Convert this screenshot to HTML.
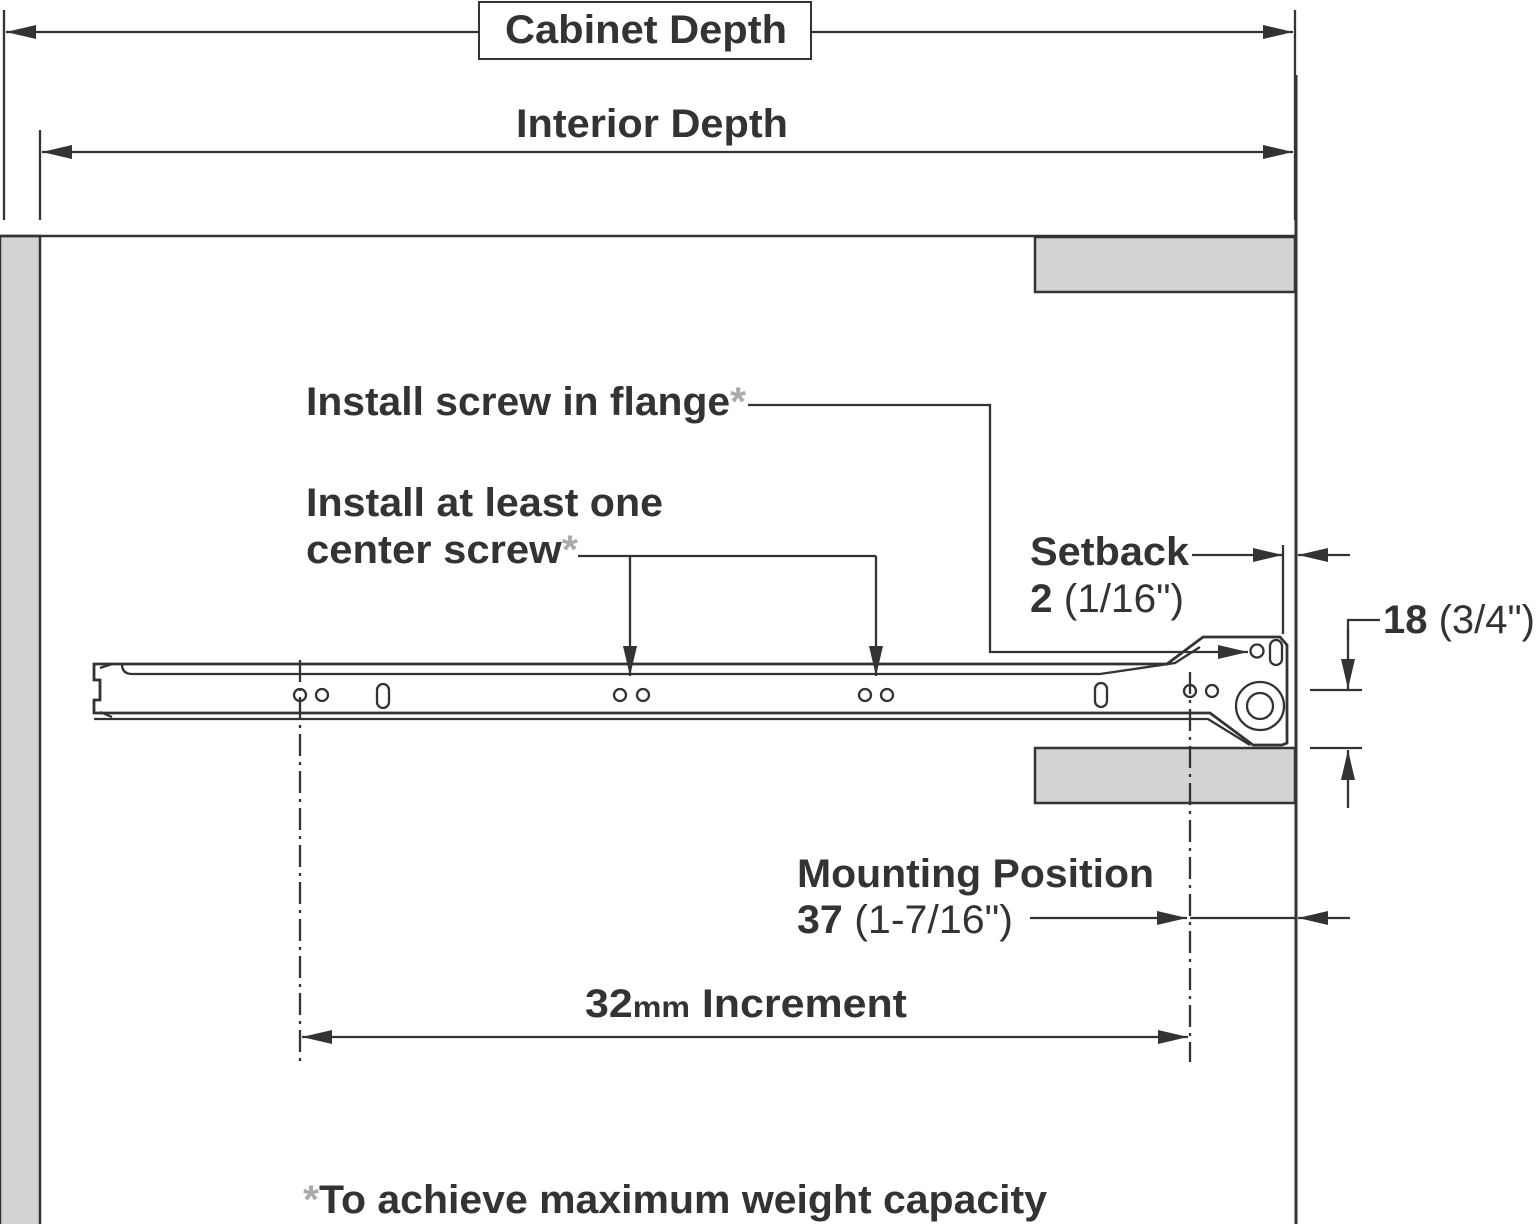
<!DOCTYPE html>
<html><head><style>
html,body{margin:0;padding:0;background:#fff;}
svg{display:block;}
text{font-family:"Liberation Sans",Arial,sans-serif;font-weight:bold;fill:#333;font-size:40px;}
.n{font-weight:normal;}
</style></head><body>
<svg width="1536" height="1224" viewBox="0 0 1536 1224" xmlns="http://www.w3.org/2000/svg">
<defs>
<marker id="a" viewBox="0 0 30 14" refX="30" refY="7" markerWidth="30" markerHeight="14" markerUnits="userSpaceOnUse" orient="auto"><path d="M0,0 L30,7 L0,14 Z" fill="#333"/></marker>
</defs>
<g stroke="#333" fill="none" stroke-width="2.3">
<rect x="0" y="236" width="40" height="990" fill="#d3d3d3" stroke-width="2.5"/>
<line x1="0" y1="236" x2="1296" y2="236" stroke-width="2.5"/>
<line x1="1296" y1="75" x2="1296" y2="1224" stroke-width="3"/>
<rect x="1035" y="237" width="260" height="55" fill="#d3d3d3" stroke-width="2.5"/>
<rect x="1035" y="748" width="260" height="55" fill="#d3d3d3" stroke-width="2.5"/>
<line x1="4" y1="10" x2="4" y2="220"/>
<line x1="1295" y1="10" x2="1295" y2="220"/>
<line x1="40" y1="130" x2="40" y2="220"/>
<line x1="480" y1="32" x2="6" y2="32" marker-end="url(#a)"/>
<line x1="810" y1="32" x2="1293" y2="32" marker-end="url(#a)"/>
<rect x="479" y="2" width="332" height="57" stroke-width="2"/>
<line x1="660" y1="152" x2="42" y2="152" marker-end="url(#a)"/>
<line x1="660" y1="152" x2="1293" y2="152" marker-end="url(#a)"/>
<path d="M94,664 L1167,664 L1203,637 L1280,637 L1287,645 L1287,743 L1282,745 L1253,745 L1210,713 L94,713 L94,700 L100,700 L100,680 L94,680 Z" stroke-width="2.8"/>
<path d="M122,664 Q122,674 132,674 L1100,674 L1175,663 L1200,647" stroke-width="2.3"/>
<path d="M94,719 L1208,719 L1250,745" stroke-width="2.3"/>
<path d="M100,668 L112,664 M100,712 L112,717"/>
<circle cx="300" cy="695" r="6"/><circle cx="322" cy="695" r="6"/>
<circle cx="620" cy="695" r="6"/><circle cx="643" cy="695" r="6"/>
<circle cx="865" cy="695" r="6"/><circle cx="887" cy="695" r="6"/>
<circle cx="1190" cy="691" r="6"/><circle cx="1212" cy="691" r="6"/>
<rect x="377" y="684" width="12" height="24" rx="6"/>
<rect x="1095" y="683" width="12" height="24" rx="6"/>
<circle cx="1257" cy="651" r="6.5"/>
<rect x="1270" y="640" width="12" height="25" rx="6"/>
<circle cx="1260" cy="706" r="24"/><circle cx="1260" cy="706" r="13"/>
<polyline points="748,405 990,405 990,652 1120,652"/>
<line x1="1120" y1="652" x2="1248" y2="652" marker-end="url(#a)"/>
<line x1="578" y1="556" x2="876" y2="556"/>
<line x1="630" y1="556" x2="630" y2="676" marker-end="url(#a)"/>
<line x1="876" y1="556" x2="876" y2="676" marker-end="url(#a)"/>
<line x1="1192" y1="555" x2="1283" y2="555" marker-end="url(#a)"/>
<line x1="1283" y1="545" x2="1283" y2="634"/>
<line x1="1350" y1="555" x2="1298" y2="555" marker-end="url(#a)"/>
<polyline points="1380,620 1348,620 1348,640"/>
<line x1="1348" y1="630" x2="1348" y2="689" marker-end="url(#a)"/>
<line x1="1310" y1="690" x2="1362" y2="690"/>
<line x1="1310" y1="748" x2="1362" y2="748"/>
<line x1="1348" y1="808" x2="1348" y2="750" marker-end="url(#a)"/>
<line x1="1030" y1="918" x2="1187" y2="918" marker-end="url(#a)"/>
<line x1="1350" y1="918" x2="1298" y2="918" marker-end="url(#a)"/>
<line x1="1190" y1="918" x2="1296" y2="918"/>
<line x1="300" y1="660" x2="300" y2="1062" stroke-dasharray="22,6,3,6"/>
<line x1="1190" y1="672" x2="1190" y2="1062" stroke-dasharray="22,6,3,6"/>
<line x1="745" y1="1037" x2="302" y2="1037" marker-end="url(#a)"/>
<line x1="745" y1="1037" x2="1188" y2="1037" marker-end="url(#a)"/>
</g>
<text x="505" y="43" textLength="282" lengthAdjust="spacingAndGlyphs">Cabinet Depth</text>
<text x="516" y="137" textLength="272" lengthAdjust="spacingAndGlyphs">Interior Depth</text>
<text x="306" y="415" textLength="440" lengthAdjust="spacingAndGlyphs">Install screw in flange<tspan fill="#aaa">*</tspan></text>
<text x="306" y="516" textLength="357" lengthAdjust="spacingAndGlyphs">Install at least one</text>
<text x="306" y="563" textLength="272" lengthAdjust="spacingAndGlyphs">center screw<tspan fill="#aaa">*</tspan></text>
<text x="1030" y="565" textLength="159" lengthAdjust="spacingAndGlyphs">Setback</text>
<text x="1030" y="612" textLength="154" lengthAdjust="spacingAndGlyphs">2 <tspan class="n">(1/16")</tspan></text>
<text x="1383" y="633" textLength="152" lengthAdjust="spacingAndGlyphs">18 <tspan class="n">(3/4")</tspan></text>
<text x="797" y="887" textLength="357" lengthAdjust="spacingAndGlyphs">Mounting Position</text>
<text x="797" y="933" textLength="216" lengthAdjust="spacingAndGlyphs">37 <tspan class="n">(1-7/16")</tspan></text>
<text x="585" y="1017" textLength="322" lengthAdjust="spacingAndGlyphs">32<tspan style="font-size:30px">mm</tspan> Increment</text>
<text x="303" y="1213" textLength="744" lengthAdjust="spacingAndGlyphs"><tspan fill="#aaa">*</tspan>To achieve maximum weight capacity</text>
</svg>
</body></html>
